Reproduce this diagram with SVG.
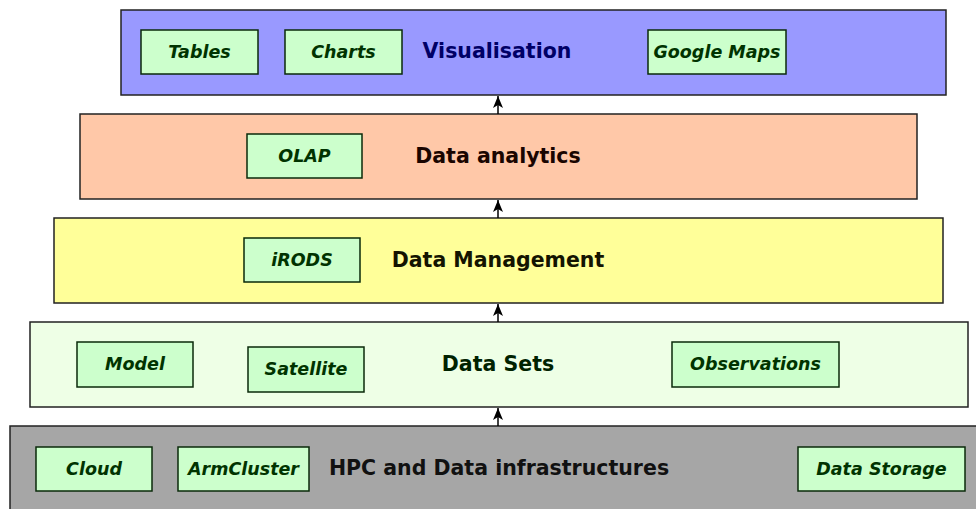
<svg xmlns="http://www.w3.org/2000/svg" width="976" height="509" viewBox="0 0 976 509">
<style>
.layer{stroke:#222;stroke-width:1.5}
.box{fill:#ccffcc;stroke:#0a2a0a;stroke-width:1.5}
.lbl{font-family:"DejaVu Sans",sans-serif;font-weight:bold;font-style:italic;font-size:17.5px;fill:#003300;text-anchor:middle}
.title{font-family:"DejaVu Sans",sans-serif;font-weight:bold;font-size:20.5px;text-anchor:middle}
.conn{stroke:#000;stroke-width:1.5;fill:none}
</style>
<defs>
<marker id="ah" viewBox="0 0 12 10" refX="12" refY="5" markerWidth="12" markerHeight="10" markerUnits="userSpaceOnUse" orient="auto">
<path d="M12,5 L0,0 L3,5 L0,10 Z" fill="#000"/>
</marker>
</defs>
<rect width="976" height="509" fill="#fff"/>
<g id="visualisation">
<rect class="layer" x="121" y="10" width="825" height="85" fill="#9999ff"/>
<text class="title" x="497" y="58" fill="#000066">Visualisation</text>
</g>
<g id="tables"><rect class="box" x="141" y="30" width="117" height="44"/><text class="lbl" x="199.5" y="58">Tables</text></g>
<g id="charts"><rect class="box" x="285" y="30" width="117" height="44"/><text class="lbl" x="343.5" y="58">Charts</text></g>
<g id="googlemaps"><rect class="box" x="648" y="30" width="138" height="44"/><text class="lbl" x="717" y="58">Google Maps</text></g>

<g id="analytics">
<rect class="layer" x="80" y="114" width="837" height="85" fill="#ffc8a8"/>
<text class="title" x="498" y="163" fill="#1a0500">Data analytics</text>
</g>
<g id="olap"><rect class="box" x="247" y="134" width="115" height="44"/><text class="lbl" x="304.5" y="162">OLAP</text></g>

<g id="management">
<rect class="layer" x="54" y="218" width="889" height="85" fill="#ffff99"/>
<text class="title" x="498" y="267" fill="#141400">Data Management</text>
</g>
<g id="irods"><rect class="box" x="244" y="238" width="116" height="44"/><text class="lbl" x="302" y="266">iRODS</text></g>

<g id="datasets">
<rect class="layer" x="30" y="322" width="938" height="85" fill="#eeffe6"/>
<text class="title" x="498" y="371" fill="#002200">Data Sets</text>
</g>
<g id="model"><rect class="box" x="77" y="342" width="116" height="45"/><text class="lbl" x="135" y="370">Model</text></g>
<g id="satellite"><rect class="box" x="248" y="347" width="116" height="45"/><text class="lbl" x="306" y="375">Satellite</text></g>
<g id="observations"><rect class="box" x="672" y="342" width="167" height="45"/><text class="lbl" x="755.5" y="370">Observations</text></g>

<g id="hpc">
<rect class="layer" x="10" y="426" width="975" height="90" fill="#a6a6a6"/>
<text class="title" x="499" y="475" fill="#111111">HPC and Data infrastructures</text>
</g>
<g id="cloud"><rect class="box" x="36" y="447" width="116" height="44"/><text class="lbl" x="94" y="475">Cloud</text></g>
<g id="armcluster"><rect class="box" x="178" y="447" width="131" height="44"/><text class="lbl" x="243.5" y="475">ArmCluster</text></g>
<g id="datastorage"><rect class="box" x="798" y="447" width="167" height="44"/><text class="lbl" x="881.5" y="475">Data Storage</text></g>

<g id="connectors">
<line class="conn" x1="498" y1="426" x2="498" y2="408" marker-end="url(#ah)"/>
<line class="conn" x1="498" y1="322" x2="498" y2="304" marker-end="url(#ah)"/>
<line class="conn" x1="498" y1="218" x2="498" y2="200" marker-end="url(#ah)"/>
<line class="conn" x1="498" y1="114" x2="498" y2="96" marker-end="url(#ah)"/>
</g>
</svg>
